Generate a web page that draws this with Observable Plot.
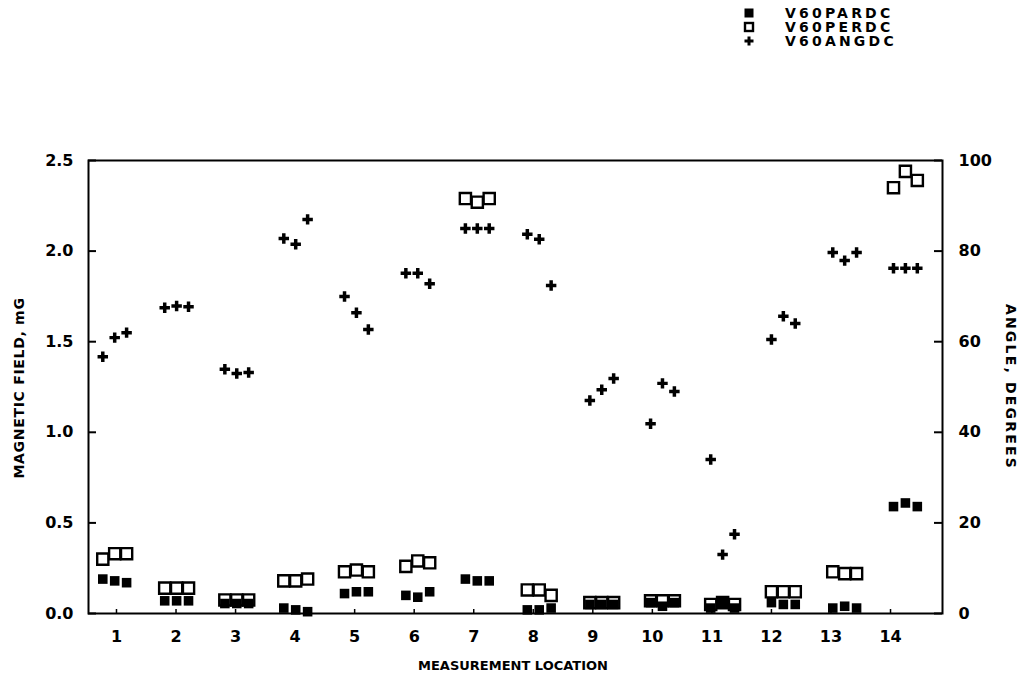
<!DOCTYPE html>
<html><head><meta charset="utf-8">
<script src="https://cdn.jsdelivr.net/npm/d3@7"></script>
<script src="https://cdn.jsdelivr.net/npm/@observablehq/plot@0.6"></script>
<style>
html,body{margin:0;padding:0;background:#fff;}
#wrap{position:relative;width:1026px;height:682px;font-family:"DejaVu Sans","Liberation Sans",sans-serif;font-weight:bold;color:#000;}
#chart{position:absolute;left:0;top:0;}
#legend{position:absolute;left:743px;top:6px;font-size:14px;letter-spacing:3.2px;line-height:14px;}
#legend div{display:flex;align-items:center;height:14px;}
#legend svg{margin-right:30px;}
.title{position:absolute;white-space:nowrap;}
#xt{left:0;width:1026px;text-align:center;top:658px;font-size:13px;letter-spacing:0px;}
#ylt{left:19px;top:388px;font-size:14px;transform:translate(-50%,-50%) rotate(-90deg);letter-spacing:0.7px;}
#yrt{left:1011px;top:387px;font-size:14px;transform:translate(-50%,-50%) rotate(90deg);letter-spacing:2.2px;}
</style></head><body>
<div id="wrap">
  <div id="chart"></div>
  <div id="legend"></div>
  <div class="title" id="xt">MEASUREMENT LOCATION</div>
  <div class="title" id="ylt">MAGNETIC FIELD, mG</div>
  <div class="title" id="yrt">ANGLE, DEGREES</div>
</div>
<script>
// Measurement locations (tick labels)
const locations = [1,2,3,4,5,6,7,8,9,10,11,12,13,14];
// Where each location's group of three readings is centred on the x axis (as plotted in the original)
const groupCenters = [0.97,2.01,3.02,4.01,5.03,6.06,7.06,8.10,9.15,10.17,11.18,12.20,13.23,14.25];
const readingOffsets = [-0.2, 0, 0.2];

// V60PARDC (mG) - filled squares
const v60pardc = [
  [0.19,0.18,0.17],[0.07,0.07,0.07],[0.055,0.055,0.055],[0.03,0.02,0.01],
  [0.11,0.12,0.12],[0.10,0.09,0.12],[0.19,0.18,0.18],[0.02,0.02,0.03],
  [0.05,0.05,0.05],[0.06,0.04,0.06],[0.03,0.06,0.03],[0.06,0.05,0.05],
  [0.03,0.04,0.03],[0.59,0.61,0.59]
];
// V60PERDC (mG) - open squares
const v60perdc = [
  [0.30,0.33,0.33],[0.14,0.14,0.14],[0.075,0.075,0.075],[0.18,0.18,0.19],
  [0.23,0.24,0.23],[0.26,0.29,0.28],[2.29,2.27,2.29],[0.13,0.13,0.10],
  [0.06,0.06,0.06],[0.07,0.07,0.07],[0.05,0.06,0.05],[0.12,0.12,0.12],
  [0.23,0.22,0.22],[2.35,2.44,2.39]
];
// V60ANGDC (degrees) - plus signs, right axis
const v60angdc = [
  [56.7,60.9,62.0],[67.5,67.9,67.7],[53.9,53.0,53.2],[82.8,81.5,87.0],
  [70.0,66.4,62.7],[75.1,75.1,72.8],[85.0,85.0,85.0],[83.7,82.6,72.4],
  [47.0,49.4,51.9],[41.9,50.8,49.0],[34.0,13.0,17.5],[60.5,65.6,64.0],
  [79.7,77.9,79.7],[76.2,76.2,76.2]
];

const fieldTicks = [0, 0.5, 1.0, 1.5, 2.0, 2.5];
const angleMax = 100, fieldMax = 2.5;
const angToField = a => a * fieldMax / angleMax;

const rows = [];
locations.forEach((loc, i) => {
  readingOffsets.forEach((o, k) => {
    rows.push({x: groupCenters[i] + o, par: v60pardc[i][k], per: v60perdc[i][k], ang: angToField(v60angdc[i][k])});
  });
});

const W = 1026, H = 682;
const mL = 88, mR = 84, mT = 160, mB = 69;
const pw = W - mL - mR, ph = H - mT - mB;

const chart = Plot.plot({
  width: W, height: H,
  marginLeft: mL, marginRight: mR, marginTop: mT, marginBottom: mB,
  style: {fontFamily: "DejaVu Sans, Liberation Sans, sans-serif", fontWeight: "bold", fontSize: "16px", color: "#000", background: "#fff"},
  x: {domain: [0.530, 14.873]},
  y: {domain: [0, fieldMax]},
  marks: [
    Plot.frame({stroke: "#000", strokeWidth: 2}),
    Plot.ruleY(fieldTicks, {stroke: "#000", strokeWidth: 2, insetRight: pw - 8}),
    Plot.ruleY(fieldTicks, {stroke: "#000", strokeWidth: 2, insetLeft: pw - 8}),
    Plot.ruleX(locations, {stroke: "#000", strokeWidth: 1.5, insetTop: ph - 4}),
    Plot.axisY({anchor: "left", ticks: fieldTicks, tickSize: 0, tickPadding: 15, tickFormat: d3.format(".1f"), label: null, style: {letterSpacing: "1px"}}),
    Plot.axisY({anchor: "right", ticks: fieldTicks, tickSize: 0, tickPadding: 16, tickFormat: d => Math.round(d * angleMax / fieldMax), label: null}),
    Plot.axisX({ticks: locations, tickSize: 0, tickPadding: 17, tickFormat: d => d, label: null}),
    Plot.dot(rows, {x: "x", y: "per", symbol: "square", r: 6.3, stroke: "#000", strokeWidth: 2.4, fill: "none"}),
    Plot.dot(rows, {x: "x", y: "par", symbol: "square", r: 5.4, fill: "#000", stroke: "none"}),
    Plot.dot(rows, {x: "x", y: "ang", symbol: "cross", r: 4.4, fill: "#000", stroke: "none"})
  ]
});
document.getElementById("chart").appendChild(chart);

// Legend
const legendItems = [
  {name: "V60PARDC", svg: '<svg width="12" height="12"><rect x="1.5" y="1.5" width="9" height="9" fill="#000"/></svg>'},
  {name: "V60PERDC", svg: '<svg width="12" height="12"><rect x="2" y="2" width="8" height="8" fill="none" stroke="#000" stroke-width="2.4"/></svg>'},
  {name: "V60ANGDC", svg: '<svg width="12" height="12"><path d="M4.5 1.5h3v3h3v3h-3v3h-3v-3h-3v-3h3z" fill="#000"/></svg>'}
];
const lg = document.getElementById("legend");
legendItems.forEach(it => {
  const d = document.createElement("div");
  d.innerHTML = it.svg + "<span>" + it.name + "</span>";
  lg.appendChild(d);
});
</script>
</body></html>
